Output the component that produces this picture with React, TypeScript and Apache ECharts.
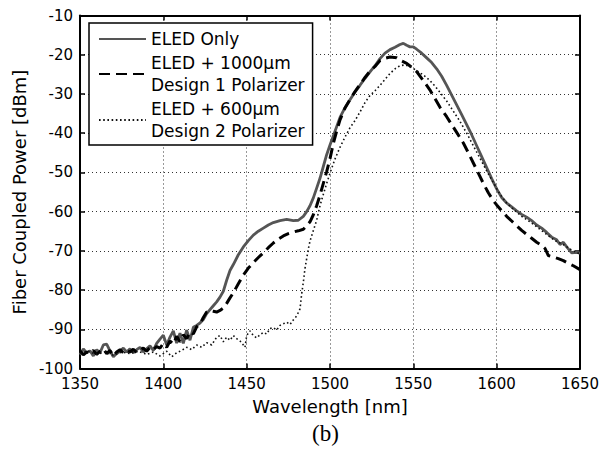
import React, { useEffect, useRef } from "react";
import * as echarts from "echarts";

const seriesNames = ["ELED Only", "ELED + 1000\u03bcm\nDesign 1 Polarizer", "ELED + 600\u03bcm\nDesign 2 Polarizer"];

// [wavelength nm, power dBm]
const eledOnly: [number, number][] = [
  [1350, -96.5], [1352, -95], [1354, -96], [1356, -95.5], [1358, -96.8], [1360, -95.2], [1362, -96], [1364, -94],
  [1366, -93.8], [1368, -95.5], [1370, -97], [1372, -96.2], [1374, -95.6], [1376, -94.8], [1378, -95.8], [1380, -95],
  [1382, -96], [1384, -95.2], [1386, -94.6], [1388, -95.8], [1390, -95], [1392, -94.2], [1394, -95.4], [1396, -93.6],
  [1398, -92.5], [1400, -91.5], [1402, -94], [1404, -92], [1406, -90.4], [1408, -93.5], [1410, -91], [1412, -93.6],
  [1414, -90.2], [1416, -92.8], [1418, -89.5], [1420, -89], [1422, -88.4], [1424, -87.5], [1426, -86], [1428, -85],
  [1430, -84], [1432, -83], [1434, -81.8], [1436, -80.3], [1438, -77.5], [1440, -75], [1442, -73.5], [1445, -71],
  [1448, -69], [1451, -67.4], [1454, -66], [1457, -65], [1460, -64.2], [1463, -63.4], [1466, -62.8], [1470, -62.3],
  [1474, -62], [1478, -62.3], [1481, -62.2], [1484, -61.2], [1486, -60], [1488, -58.5], [1490, -56.5], [1492, -54],
  [1494, -51.5], [1496, -48.5], [1498, -45.5], [1500, -43], [1503, -39.5], [1506, -36], [1509, -33.5], [1512, -31.5],
  [1515, -29.5], [1518, -27.8], [1521, -26], [1524, -24.4], [1527, -22.8], [1530, -21], [1533, -19.6], [1536, -18.7],
  [1539, -18.1], [1542, -17.4], [1544, -17.1], [1546, -17.6], [1548, -18], [1550, -18], [1552, -18.6], [1555, -19.6],
  [1558, -20.8], [1561, -22], [1564, -23.6], [1567, -25.5], [1570, -27.8], [1573, -30.3], [1576, -32.8], [1579, -35.3],
  [1582, -37.8], [1585, -40.4], [1588, -43.2], [1591, -46], [1594, -48.8], [1597, -51.6], [1600, -54.2], [1603, -56.4],
  [1606, -57.8], [1609, -58.8], [1612, -59.8], [1615, -60.7], [1618, -61.4], [1621, -62.3], [1624, -63.4], [1627, -64.2],
  [1630, -65.3], [1633, -66.5], [1636, -67.2], [1638, -68.4], [1640, -67.8], [1642, -69], [1645, -70.5], [1648, -70.4],
  [1650, -70.6],
];

const design1: [number, number][] = [
  [1350, -95.5], [1352, -96.5], [1354, -95.8], [1356, -96.2], [1358, -95.4], [1360, -96.4], [1362, -95.6], [1364, -95],
  [1366, -96.2], [1368, -95.4], [1370, -96.8], [1372, -95.8], [1374, -95.2], [1376, -96], [1378, -95.3], [1380, -95.8],
  [1382, -95.1], [1384, -95.9], [1386, -95.3], [1388, -94.8], [1390, -95.6], [1392, -94.6], [1394, -95.2], [1396, -94.4],
  [1398, -94.8], [1400, -93.6], [1402, -94.6], [1404, -93], [1406, -93.8], [1408, -91.8], [1410, -93.2], [1412, -91.4],
  [1414, -92.4], [1416, -90.6], [1418, -91.2], [1420, -89.4], [1422, -88.6], [1424, -87], [1426, -85.6], [1428, -85.2],
  [1430, -85.4], [1432, -85.6], [1434, -85.2], [1436, -84.6], [1438, -83.4], [1440, -82], [1442, -80.7], [1445, -78.4],
  [1448, -76.2], [1451, -74.4], [1454, -73], [1457, -71.7], [1460, -70.5], [1463, -69.2], [1466, -68], [1469, -67],
  [1472, -66.2], [1475, -65.6], [1478, -65.2], [1481, -64.9], [1484, -64.5], [1486, -63.6], [1488, -62.6], [1490, -60.8],
  [1492, -58.5], [1494, -55.8], [1496, -52.8], [1498, -49.8], [1500, -46.5], [1502, -42.6], [1504, -39.5], [1506, -36.6],
  [1509, -33.6], [1512, -31.4], [1515, -29.4], [1518, -27.6], [1521, -25.8], [1524, -24.2], [1527, -23], [1530, -21.5],
  [1533, -20.9], [1536, -20.6], [1540, -20.8], [1543, -21.6], [1546, -22.2], [1549, -23.2], [1552, -24.3], [1556, -26.6],
  [1560, -29], [1563, -31.2], [1566, -33.4], [1570, -35.8], [1573, -37.8], [1576, -39.8], [1580, -42.5], [1583, -45],
  [1586, -47.6], [1589, -50.2], [1592, -52.8], [1595, -55.2], [1598, -57.2], [1600, -58.3], [1603, -59.8], [1606, -61.2],
  [1609, -62.4], [1612, -63.6], [1615, -64.8], [1618, -65.8], [1621, -66.8], [1624, -67.8], [1627, -68.6], [1629, -69.4],
  [1631, -71.2], [1634, -71.6], [1637, -72], [1640, -72.5], [1643, -73.2], [1646, -73.8], [1650, -74.8],
];

const design2: [number, number][] = [
  [1350, -96.2], [1355, -95.6], [1360, -96.4], [1365, -95.8], [1370, -96.6], [1375, -95.8], [1380, -96.2], [1385, -95.6],
  [1390, -96.4], [1394, -95.8], [1398, -96.8], [1402, -95.6], [1405, -97], [1408, -96], [1411, -95.4], [1414, -94.6],
  [1417, -95.2], [1420, -94], [1423, -94.6], [1426, -93.4], [1429, -94], [1432, -92], [1434, -91.6], [1436, -93.2],
  [1438, -92], [1440, -92.8], [1442, -91.6], [1444, -92.4], [1446, -93], [1448, -94], [1449, -94.6], [1450, -91.6],
  [1452, -90.4], [1454, -91.6], [1456, -92.2], [1458, -91.4], [1460, -90.8], [1462, -91.2], [1464, -89.8], [1466, -89.6],
  [1468, -90.2], [1470, -89], [1472, -88.6], [1474, -88.2], [1476, -88.8], [1478, -87.6], [1480, -86.6], [1482, -84.8],
  [1483, -81], [1484, -78], [1485, -74.5], [1486, -72], [1487, -69.5], [1488, -67.5], [1490, -64.8], [1492, -62.2],
  [1494, -58.5], [1496, -55.6], [1498, -52.8], [1500, -50.2], [1503, -46.6], [1506, -43.6], [1509, -41], [1512, -38.6],
  [1515, -36.8], [1518, -34.6], [1521, -32.2], [1524, -30.4], [1527, -29.2], [1530, -27.8], [1533, -26.3], [1536, -24.8],
  [1539, -23.6], [1542, -22.8], [1545, -22.6], [1548, -23], [1551, -23.8], [1554, -24.6], [1557, -25.5], [1560, -26.6],
  [1563, -28], [1566, -29.6], [1570, -31.8], [1574, -34.4], [1578, -37], [1582, -40], [1586, -43.2], [1590, -46.4],
  [1594, -49.6], [1598, -52.6], [1602, -55.6], [1606, -57.8], [1610, -59.4], [1615, -61.2], [1620, -62.6], [1625, -64.2],
  [1630, -65.8], [1635, -67.4], [1640, -68.4], [1645, -69.8], [1650, -70.8],
];

const xMin = 1350, xMax = 1650, xStep = 50;
const yMin = -100, yMax = -10, yStep = 10;
const xName = "Wavelength [nm]";
const yName = "Fiber Coupled Power [dBm]";
const caption = "(b)";

const FONT = "'DejaVu Sans', sans-serif";

export default function App() {
  const ref = useRef<HTMLDivElement>(null);
  useEffect(() => {
    document.body.style.margin = "0";
    if (!ref.current) return;
    const chart = echarts.init(ref.current, undefined, { renderer: "svg" });
    const splitLine = { show: true, lineStyle: { color: "#333", width: 1, type: [1, 3] as any } };
    const axisLine = { show: true, onZero: false, lineStyle: { color: "#000", width: 2 } };
    const axisTick = { show: true, inside: true, length: 5, lineStyle: { color: "#000", width: 1.5 } };
    const label = { color: "#000", fontFamily: FONT, fontSize: 15, formatter: (v: number) => String(v) };
    chart.setOption({
      animation: false,
      backgroundColor: "#fff",
      grid: { left: 80, right: 30, top: 15.5, bottom: 88.5, show: false },
      xAxis: [
        {
          type: "value", min: xMin, max: xMax, interval: xStep, position: "bottom",
          axisLine, axisTick, splitLine,
          axisLabel: { ...label, margin: 8 },
          name: xName, nameLocation: "middle", nameGap: 29,
          nameTextStyle: { color: "#000", fontFamily: FONT, fontSize: 18 },
        },
        {
          type: "value", min: xMin, max: xMax, interval: xStep, position: "top",
          axisLine, axisTick, splitLine: { show: false }, axisLabel: { show: false },
        },
      ],
      yAxis: [
        {
          type: "value", min: yMin, max: yMax, interval: yStep, position: "left",
          axisLine, axisTick, splitLine,
          axisLabel: { ...label, margin: 7 },
          name: yName, nameLocation: "middle", nameGap: 39,
          nameTextStyle: { color: "#000", fontFamily: FONT, fontSize: 18 },
        },
        {
          type: "value", min: yMin, max: yMax, interval: yStep, position: "right",
          axisLine, axisTick, splitLine: { show: false }, axisLabel: { show: false },
        },
      ],
      legend: {
        orient: "vertical", left: 89, top: 23,
        padding: [5, 8, 3, 9], itemGap: 2, itemWidth: 47, itemHeight: 14,
        backgroundColor: "#fff", borderColor: "#000", borderWidth: 1.5, borderRadius: 0,
        itemStyle: { opacity: 0 },
        textStyle: { color: "#000", fontFamily: FONT, fontSize: 17, lineHeight: 22 },
        data: seriesNames,
      },
      series: [
        {
          name: seriesNames[0], type: "line", data: eledOnly, symbol: "none",
          lineStyle: { color: "#555", width: 2.8 }, itemStyle: { color: "#555" },
        },
        {
          name: seriesNames[1], type: "line", data: design1, symbol: "none",
          lineStyle: { color: "#000", width: 3, type: [11, 6] }, itemStyle: { color: "#000" },
        },
        {
          name: seriesNames[2], type: "line", data: design2, symbol: "none",
          lineStyle: { color: "#111", width: 1.6, type: [1.6, 2.6] }, itemStyle: { color: "#111" },
        },
      ],
      graphic: [
        {
          type: "text", left: 312, top: 422,
          style: { text: caption, fill: "#000", font: "23px 'Liberation Serif', serif" },
        },
      ],
    });
    return () => chart.dispose();
  }, []);
  return <div ref={ref} style={{ width: 610, height: 457 }} />;
}
